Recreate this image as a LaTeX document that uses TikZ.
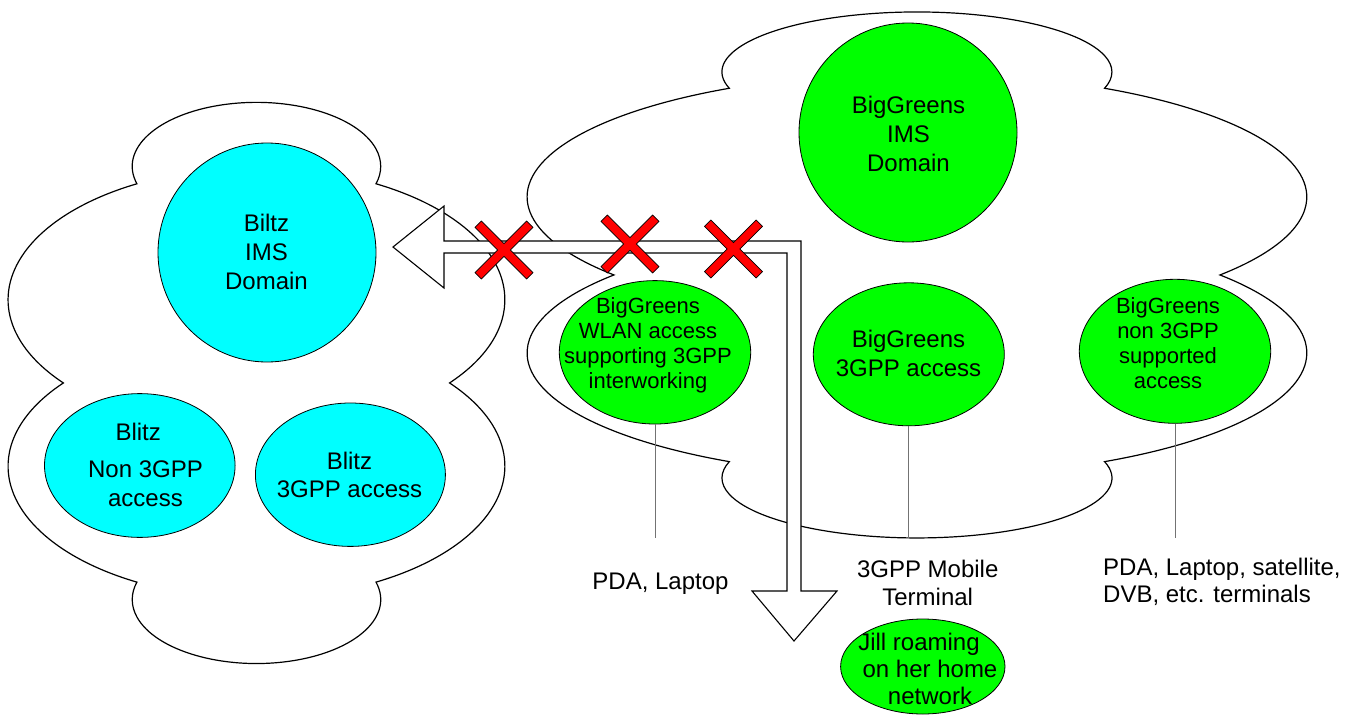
\documentclass[tikz,border=0pt]{standalone}
\usepackage{fontspec}
\setmainfont{Liberation Sans}
\usetikzlibrary{shapes.geometric}
\definecolor{cyanfill}{HTML}{00FFFF}
\definecolor{greenfill}{HTML}{00FF00}
\definecolor{crossred}{HTML}{FF0000}
% cloud outline: centre (#1,#2), half width #3, half height #4
\newcommand{\cloudshape}[4]{({#1-0.4812*#3},{#2-0.7100*#4})
  arc[start angle=164.19, end angle=375.81, x radius={0.5*#3}, y radius={0.228*#4}]
  arc[start angle=298.78, end angle=398.98, x radius={#3}, y radius={0.4715*#4}]
  arc[start angle=321.02, end angle=421.22, x radius={#3}, y radius={0.4715*#4}]
  arc[start angle=344.19, end angle=555.81, x radius={0.5*#3}, y radius={0.228*#4}]
  arc[start angle=118.78, end angle=218.98, x radius={#3}, y radius={0.4715*#4}]
  arc[start angle=141.02, end angle=241.22, x radius={#3}, y radius={0.4715*#4}]
  -- cycle}
\begin{document}
\begin{tikzpicture}[x=1pt,y=-1pt,
  cloudline/.style={draw=black, line width=1.2pt},
  cyanell/.style={ellipse, draw=black, line width=0.8pt, fill=cyanfill, inner sep=0pt},
  greenell/.style={ellipse, draw=black, line width=0.8pt, fill=greenfill, inner sep=0pt},
  txt/.style 2 args={inner sep=0pt, anchor=north, align=center, font=\fontsize{#1}{#2}\selectfont},
  stemline/.style={draw=black!55, line width=1pt},
  blockarrow/.style={draw=black, line width=1.1pt, fill=white},
  redcross/.pic={\filldraw[fill=crossred, draw=black, line width=0.7pt, rotate=45]
    (4.5,4.5) -- (36.5,4.5) -- (36.5,-4.5) -- (4.5,-4.5) -- (4.5,-36.5) -- (-4.5,-36.5)
    -- (-4.5,-4.5) -- (-36.5,-4.5) -- (-36.5,4.5) -- (-4.5,4.5) -- (-4.5,36.5) -- (4.5,36.5) -- cycle;}
]
\useasboundingbox (0,0) rectangle (1345,715);
\fill[white] (0,0) rectangle (1345,715);

% clouds
\draw[cloudline] \cloudshape{256.5}{383}{248.5}{280.6};
\draw[cloudline] \cloudshape{917}{275}{390}{263};

% Blitz domain
\node[cyanell, minimum width=218pt, minimum height=219pt] (biltzIMS) at (267,252.5) {};
\node[txt={24}{29.2}] (biltzIMST) at (266.5,214) {Biltz\\IMS\\Domain};
\node[cyanell, minimum width=190.6pt, minimum height=143.8pt] (blitzNon) at (139.8,465.5) {};
\node[txt={24}{28.6}] (blitzNonT) at (145.5,423.4) {Blitz\hspace*{14.6pt}\\[8pt]Non 3GPP\\access};
\node[cyanell, minimum width=190pt, minimum height=143.4pt] (blitz3G) at (350.4,474.7) {};
\node[txt={24}{28.5}] (blitz3GT) at (349.5,451.5) {Blitz\\3GPP access};

% BigGreens domain
\node[greenell, minimum width=218pt, minimum height=219pt] (bgIMS) at (908,132.5) {};
\node[txt={24}{29}] (bgIMST) at (908.5,95.5) {BigGreens\\IMS\\Domain};
\node[greenell, minimum width=191.4pt, minimum height=143.4pt] (wlan) at (655,352.3) {};
\node[txt={22}{25}] (wlanT) at (648,297.7) {BigGreens\\WLAN access\\supporting 3GPP\\interworking};
\node[greenell, minimum width=191pt, minimum height=143pt] (bg3G) at (908.8,354.3) {};
\node[txt={24}{28.6}] (bg3GT) at (908.5,330.4) {BigGreens\\3GPP access};
\node[greenell, minimum width=191.4pt, minimum height=144pt] (bgNon) at (1175,351.3) {};
\node[txt={22}{25}] (bgNonT) at (1168,297.3) {BigGreens\\non 3GPP\\supported\\access};

% stems
\coordinate (wlanEnd) at (655,538);
\coordinate (bg3GEnd) at (908.8,538);
\coordinate (bgNonEnd) at (1175,538);
\draw[stemline] (wlan.south) -- (wlanEnd);
\draw[stemline] (bg3G.south) -- (bg3GEnd);
\draw[stemline] (bgNon.south) -- (bgNonEnd);

% terminal labels
\node[txt={24}{29}] (pdaT) at (660.5,572.7) {PDA, Laptop};
\node[txt={24}{28.3}] (mobT) at (927.7,559.5) {3GPP Mobile\\Terminal};
\node[txt={24}{26.7}, align=left, anchor=north west] (pda2T) at (1103,558) {PDA, Laptop, satellite,\\DVB, etc. terminals};

% block arrow
\draw[blockarrow] (393,247) -- (444,206) -- (444,241) -- (801,241) -- (801,591)
  -- (837,591) -- (794,641) -- (752,591) -- (787,591) -- (787,253) -- (444,253)
  -- (444,288) -- cycle;

% red crosses
\pic (cross1) at (504,250) {redcross};
\pic (cross2) at (630,244) {redcross};
\pic (cross3) at (733.5,249) {redcross};

% Jill
\node[greenell, minimum width=164.4pt, minimum height=95pt] (jill) at (922.8,666.5) {};
\node[txt={24}{27}] (jillT) at (930,632.7) {Jill roaming\hspace*{22pt}\\on her home\\network};
\end{tikzpicture}
\end{document}
